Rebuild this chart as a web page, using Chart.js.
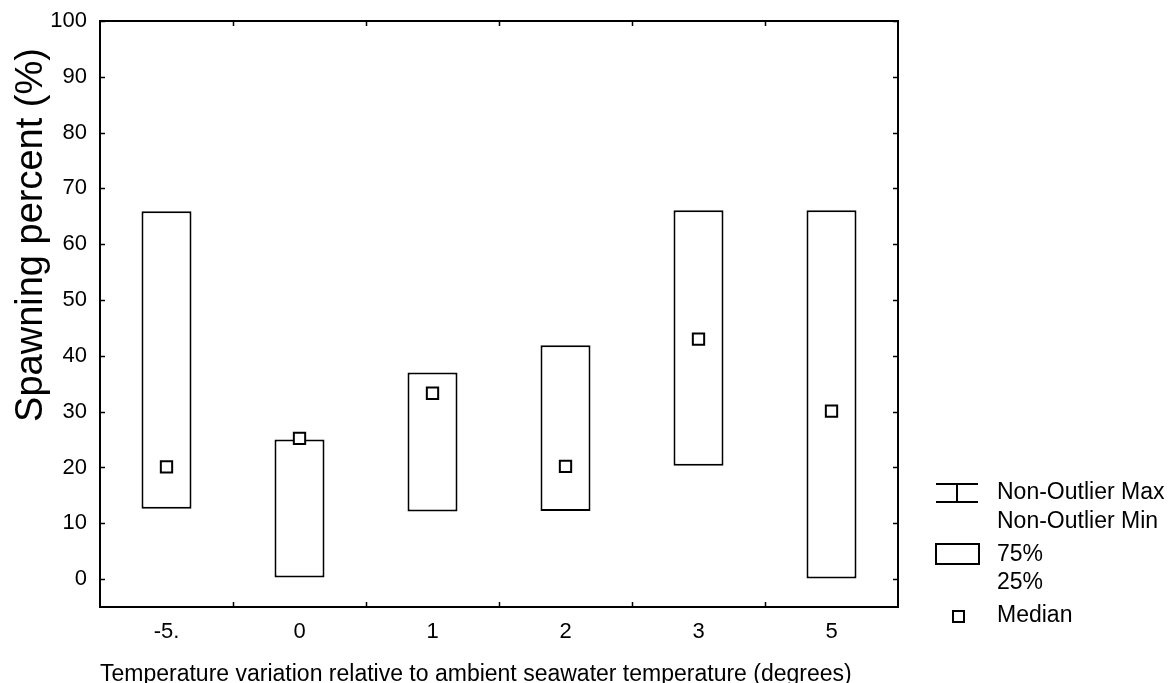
<!DOCTYPE html>
<html>
<head>
<meta charset="utf-8">
<title>Spawning percent by temperature variation</title>
<script src="https://cdn.jsdelivr.net/npm/chart.js@4/dist/chart.umd.min.js"></script>
<style>
    html, body { margin: 0; padding: 0; background: #fff; }
    #wrap { width: 1168px; height: 683px; position: relative; }
</style>
</head>
<body>
<div id="wrap"><canvas id="boxChart"></canvas></div>
<script>
// Temperature groups (degrees relative to ambient)
const categories = ['-5.', '0', '1', '2', '3', '5'];

// Box edges (25% / 75%) and medians, spawning percent
const q25 = [12.6, 0.3, 12.1, 12.2, 20.3, 0.1];
const q75 = [65.9, 25.0, 37.0, 41.9, 66.1, 66.1];
const medians = [20.1, 25.2, 33.3, 20.2, 43.0, 30.1];

const yTicks = [0, 10, 20, 30, 40, 50, 60, 70, 80, 90, 100];

const FONT = 'Arial, "Liberation Sans", sans-serif';

// Frame, inward ticks, titles and the box-plot key
const framePlugin = {
    id: 'framePlugin',
    afterDraw(chart) {
        const ctx = chart.ctx;
        const a = chart.chartArea;
        const xs = chart.scales.x;
        const ys = chart.scales.y;
        ctx.save();
        ctx.strokeStyle = '#000';
        ctx.lineWidth = 2;
        ctx.strokeRect(a.left, a.top, a.right - a.left, a.bottom - a.top);

        ctx.lineWidth = 1.5;
        ctx.beginPath();
        yTicks.forEach(v => {
            const py = Math.round(ys.getPixelForValue(v)) + 0.5;
            ctx.moveTo(a.left, py); ctx.lineTo(a.left + 5, py);
            ctx.moveTo(a.right, py); ctx.lineTo(a.right - 5, py);
        });
        for (let i = 1; i < categories.length; i++) {
            const px = Math.round((xs.getPixelForValue(i - 1) + xs.getPixelForValue(i)) / 2) + 0.5;
            ctx.moveTo(px, a.bottom); ctx.lineTo(px, a.bottom - 5);
            ctx.moveTo(px, a.top); ctx.lineTo(px, a.top + 5);
        }
        ctx.stroke();

        ctx.fillStyle = '#000';
        // y axis title
        ctx.save();
        ctx.translate(42, 235);
        ctx.rotate(-Math.PI / 2);
        ctx.font = '38px ' + FONT;
        ctx.textAlign = 'center';
        ctx.textBaseline = 'alphabetic';
        ctx.fillText('Spawning percent (%)', 0, 0);
        ctx.restore();

        // x axis title
        ctx.font = '23px ' + FONT;
        ctx.textAlign = 'left';
        ctx.textBaseline = 'alphabetic';
        ctx.fillText('Temperature variation relative to ambient seawater temperature (degrees)', 100, 681);

        // key
        ctx.lineWidth = 2;
        ctx.beginPath();
        ctx.moveTo(936, 484); ctx.lineTo(978, 484);
        ctx.moveTo(936, 502); ctx.lineTo(978, 502);
        ctx.moveTo(957, 484); ctx.lineTo(957, 502);
        ctx.stroke();
        ctx.strokeRect(936, 544, 43, 20);
        ctx.strokeRect(953, 611, 11, 11);

        ctx.font = '23px ' + FONT;
        ctx.textBaseline = 'middle';
        ctx.fillText('Non-Outlier Max', 997, 493);
        ctx.fillText('Non-Outlier Min', 997, 522);
        ctx.fillText('75%', 997, 555);
        ctx.fillText('25%', 997, 583);
        ctx.fillText('Median', 997, 616);
        ctx.restore();
    }
};

const boxes = categories.map((c, i) => [q25[i], q75[i]]);

new Chart(document.getElementById('boxChart'), {
    type: 'bar',
    data: {
        labels: categories,
        datasets: [{
            label: '25% - 75%',
            data: boxes,
            backgroundColor: '#fff',
            borderColor: '#000',
            borderWidth: 2,
            borderSkipped: false,
            categoryPercentage: 1,
            barPercentage: 0.376,
            order: 2
        }, {
            type: 'line',
            label: 'Median',
            data: medians,
            showLine: false,
            pointStyle: 'rect',
            pointRadius: 8,
            pointHoverRadius: 8,
            pointBorderWidth: 2,
            pointBackgroundColor: '#fff',
            pointBorderColor: '#000',
            order: 1
        }]
    },
    options: {
        responsive: true,
        maintainAspectRatio: false,
        animation: false,
        layout: { padding: { left: 0, top: 21, right: 270, bottom: 0 } },
        plugins: {
            legend: { display: false },
            tooltip: { enabled: false }
        },
        scales: {
            x: {
                grid: { display: false, drawTicks: false },
                border: { display: false },
                ticks: { color: '#000', font: { size: 22, family: FONT }, padding: 12 },
                afterFit(scale) {
                    scale.height = 76;
                    scale.paddingLeft = 0;
                    scale.paddingRight = 0;
                }
            },
            y: {
                min: -5,
                max: 100,
                grid: { display: false, drawTicks: false },
                border: { display: false },
                ticks: { color: '#000', font: { size: 22, family: FONT }, padding: 13 },
                afterBuildTicks(scale) { scale.ticks = yTicks.map(v => ({ value: v })); },
                afterFit(scale) {
                    scale.width = 100;
                    scale.paddingTop = 0;
                    scale.paddingBottom = 0;
                }
            }
        }
    },
    plugins: [framePlugin]
});
</script>
</body>
</html>
